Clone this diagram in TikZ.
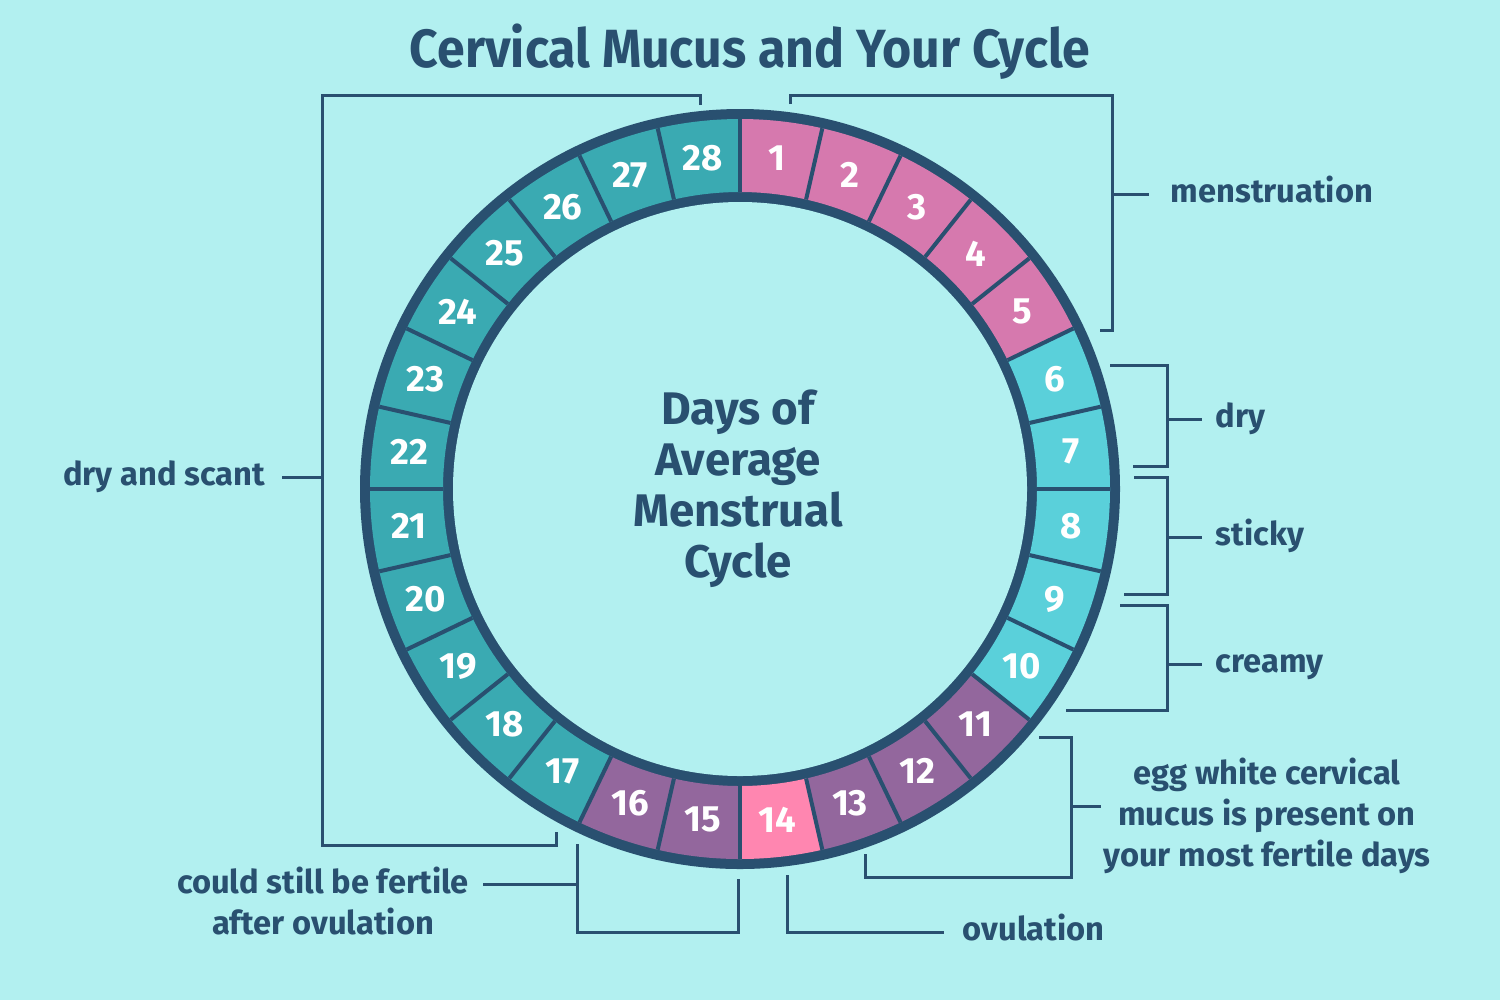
\documentclass[tikz,border=0pt]{standalone}
\usepackage{fontspec}
\setmainfont{Fira Sans}
\usetikzlibrary{positioning}

\definecolor{bgcyan}{RGB}{178,240,240}
\definecolor{navy}{RGB}{41,80,112}
\definecolor{menspink}{RGB}{214,121,174}
\definecolor{drycyan}{RGB}{90,208,218}
\definecolor{fertpurple}{RGB}{147,103,157}
\definecolor{ovupink}{RGB}{255,134,176}
\definecolor{scantteal}{RGB}{58,170,178}

\begin{document}
\begin{tikzpicture}[
    x=0.1mm, y=-0.1mm,
    brk/.style = {draw=navy, line width=0.3mm},
    lbl/.style = {text=navy, font=\fontsize{9.3}{11.7}\selectfont\bfseries, inner sep=0pt, text height=0.75em, text depth=0.25em},
    lblblock/.style = {text=navy, font=\fontsize{9.3}{11.7}\selectfont\bfseries, inner sep=0pt, align=center},
    daynum/.style = {text=white, font=\fontsize{10.4}{12}\selectfont\bfseries, inner sep=0pt},
    sep/.style = {navy, line width=0.4mm}
  ]

  % Background and page size
  \fill[bgcyan] (0,0) rectangle (1500,1000);
  \useasboundingbox (0,0) rectangle (1500,1000);

  % Title
  \node[text=navy, font=\fontsize{15.3}{17}\selectfont\bfseries, anchor=base, inner sep=0pt] (title) at (750,67)
    {\scalebox{0.93}[1]{Cervical Mucus and Your Cycle}};

  % Ring of days
  \begin{scope}[shift={(740,489)}]
    \fill[navy] (0,0) circle[radius=380];
    \fill[bgcyan] (0,0) circle[radius=287];

    \foreach \d/\col in {1/menspink, 2/menspink, 3/menspink, 4/menspink, 5/menspink,
                         6/drycyan, 7/drycyan, 8/drycyan, 9/drycyan, 10/drycyan,
                         11/fertpurple, 12/fertpurple, 13/fertpurple, 14/ovupink,
                         15/fertpurple, 16/fertpurple,
                         17/scantteal, 18/scantteal, 19/scantteal, 20/scantteal,
                         21/scantteal, 22/scantteal, 23/scantteal, 24/scantteal,
                         25/scantteal, 26/scantteal, 27/scantteal, 28/scantteal} {
      \pgfmathsetmacro\a{-90+(\d-1)*360/28}
      \pgfmathsetmacro\b{\a+360/28}
      \pgfmathsetmacro\m{\a+180/28}
      \fill[\col] (\a:370) arc[start angle=\a, end angle=\b, radius=370]
        -- (\b:297) arc[start angle=\b, end angle=\a, radius=297] -- cycle;
      \node[daynum] (day\d) at (\m:333) {\d};
    }

    % Lines between the days
    \foreach \d in {1,...,28} {
      \pgfmathsetmacro\a{-90+(\d-1)*360/28}
      \draw[sep] (\a:297) -- (\a:370);
    }
  \end{scope}

  % Centre text
  \node[text=navy, font=\fontsize{13}{14.5}\selectfont\bfseries, align=center, inner sep=0pt] (cycle) at (738,489)
    {Days of\\Average\\Menstrual\\Cycle};

  % menstruation
  \coordinate (mensTick) at (1149,194);
  \draw[brk] (790,104) |- (1112,95) |- (1100,330);
  \draw[brk] (1112,194) -- (mensTick);
  \node[lbl, right=2.1mm of mensTick] (mens) {menstruation};

  % dry
  \coordinate (dryTick) at (1202,419);
  \draw[brk] (1110,365) -| (1167,466) -- (1133,466);
  \draw[brk] (1167,419) -- (dryTick);
  \node[lbl, right=1.3mm of dryTick] (dry) {dry};

  % sticky
  \coordinate (stickyTick) at (1202,537);
  \draw[brk] (1134,477) -| (1167,594) -- (1124,594);
  \draw[brk] (1167,537) -- (stickyTick);
  \node[lbl, right=1.3mm of stickyTick] (sticky) {sticky};

  % creamy
  \coordinate (creamyTick) at (1202,664);
  \draw[brk] (1120,605) -| (1167,710) -- (1066,710);
  \draw[brk] (1167,664) -- (creamyTick);
  \node[lbl, right=1.3mm of creamyTick] (creamy) {creamy};

  % egg white
  \coordinate (eggTick) at (1101,806);
  \draw[brk] (1039,737) -| (1071,877) -| (865,854);
  \draw[brk] (1071,806) -- (eggTick);
  \node[lblblock] (egg) at (1267,816) {egg white cervical\\mucus is present on\\your most fertile days};

  % ovulation
  \coordinate (ovuTick) at (944,932);
  \draw[brk] (787,875) |- (ovuTick);
  \node[lbl, right=1.8mm of ovuTick] (ovu) {ovulation};

  % could still be fertile
  \coordinate (fertTick) at (483,884);
  \draw[brk] (738,879) |- (577,932) -- (577,844);
  \draw[brk] (577,884) -- (fertTick);
  \node[lblblock] (fert) at (323,901) {could still be fertile\\after ovulation};

  % dry and scant
  \coordinate (scantTick) at (282,477);
  \draw[brk] (700,105) |- (322,95) |- (556,845) -- (556,832);
  \draw[brk] (322,477) -- (scantTick);
  \node[lbl, left=1.6mm of scantTick] (scant) {dry and scant};

\end{tikzpicture}
\end{document}
